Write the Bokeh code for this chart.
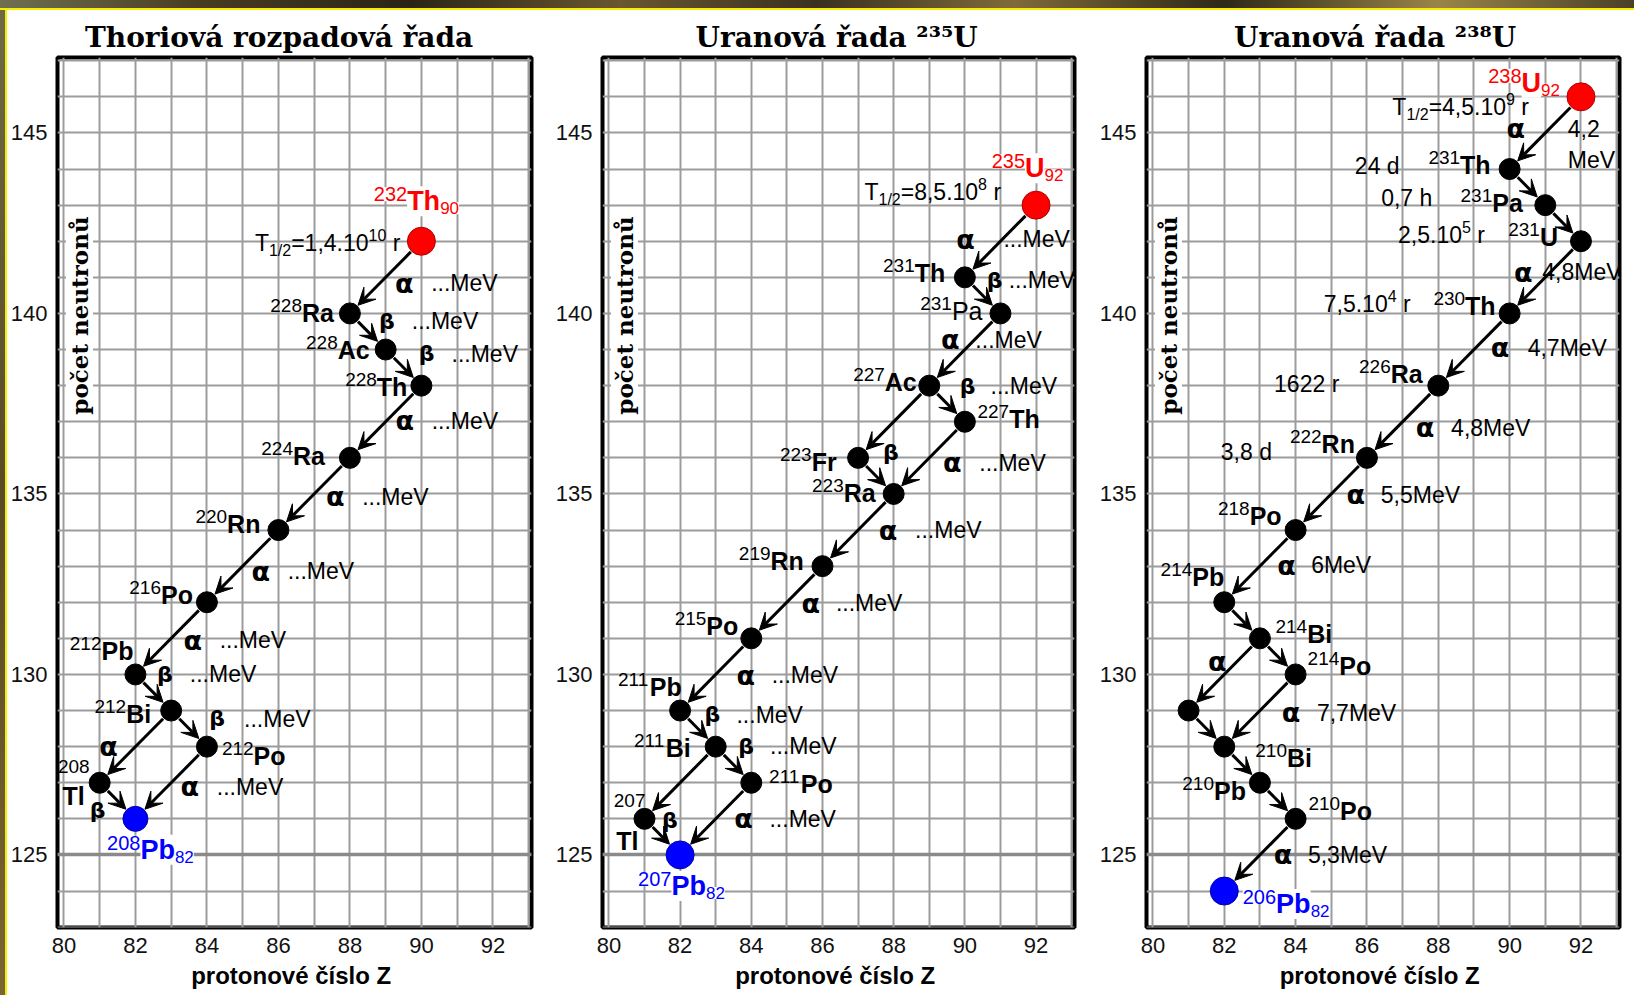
import math
import re

from bokeh.core.properties import value
from bokeh.embed import file_html
from bokeh.layouts import row
from bokeh.models import (Arrow, ColumnDataSource, FixedTicker, GlobalInlineStyleSheet,
                          Grid, Label, LabelSet, Range1d, VeeHead)
from bokeh.plotting import figure
from bokeh.resources import INLINE

# ----------------------------------------------------------------- data ---
titles = ["Thoriová rozpadová řada", "Uranová řada ²³⁵U", "Uranová řada ²³⁸U"]
x_ticks = [80, 82, 84, 86, 88, 90, 92]
y_ticks = [125, 130, 135, 140, 145]
x_title = "protonové číslo  Z"
y_title = "počet neutronů"

# thorium series
s1_Z = [90, 88, 89, 90, 88, 86, 84, 82, 83, 84, 81, 82]
s1_N = [142, 140, 139, 138, 136, 134, 132, 130, 129, 128, 127, 126]
s1_A = ["232", "228", "228", "228", "224", "220", "216", "212", "212", "212", "208", "208"]
s1_sym = ["Th", "Ra", "Ac", "Th", "Ra", "Rn", "Po", "Pb", "Bi", "Po", "Tl", "Pb"]
s1_half = ["T_{1/2}=1,4.10^{10} r"] + [None] * 11
s1_from = [0, 1, 2, 3, 4, 5, 6, 7, 8, 8, 9, 10]
s1_to = [1, 2, 3, 4, 5, 6, 7, 8, 9, 10, 11, 11]
s1_mode = ["α", "β", "β", "α", "α", "α", "α", "β", "β", "α", "α", "β"]
s1_energy = ["...MeV"] * 9 + [None, "...MeV", None]

# uranium 235 series
s2_Z = [92, 90, 91, 89, 90, 87, 88, 86, 84, 82, 83, 84, 81, 82]
s2_N = [143, 141, 140, 138, 137, 136, 135, 133, 131, 129, 128, 127, 126, 125]
s2_A = ["235", "231", "231", "227", "227", "223", "223", "219", "215", "211", "211", "211", "207", "207"]
s2_sym = ["U", "Th", "Pa", "Ac", "Th", "Fr", "Ra", "Rn", "Po", "Pb", "Bi", "Po", "Tl", "Pb"]
s2_half = ["T_{1/2}=8,5.10^{8} r"] + [None] * 13
s2_from = [0, 1, 2, 3, 3, 5, 4, 6, 7, 8, 9, 10, 10, 12, 11]
s2_to = [1, 2, 3, 4, 5, 6, 6, 7, 8, 9, 10, 11, 12, 13, 13]
s2_mode = ["α", "β", "α", "β", "α", "β", "α", "α", "α", "α", "β", "β", "α", "β", "α"]
s2_energy = ["...MeV", "...MeV", "...MeV", "...MeV", None, None, "...MeV", "...MeV",
             "...MeV", "...MeV", "...MeV", "...MeV", None, None, "...MeV"]

# uranium 238 series
s3_Z = [92, 90, 91, 92, 90, 88, 86, 84, 82, 83, 84, 81, 82, 83, 84, 82]
s3_N = [146, 144, 143, 142, 140, 138, 136, 134, 132, 131, 130, 129, 128, 127, 126, 124]
s3_A = ["238", "231", "231", "231", "230", "226", "222", "218", "214", "214", "214", None,
        "210", "210", "210", "206"]
s3_sym = ["U", "Th", "Pa", "U", "Th", "Ra", "Rn", "Po", "Pb", "Bi", "Po", None,
          "Bi", "Pb", "Po", "Pb"]
s3_half = ["T_{1/2}=4,5.10^{9} r", "24 d", "0,7 h", "2,5.10^{5} r", "7,5.10^{4} r",
           "1622 r", "3,8 d"] + [None] * 9
s3_from = [0, 1, 2, 3, 4, 5, 6, 7, 8, 9, 9, 10, 11, 12, 13, 14]
s3_to = [1, 2, 3, 4, 5, 6, 7, 8, 9, 10, 11, 12, 12, 13, 14, 15]
s3_mode = ["α", "β", "β", "α", "α", "α", "α", "α", "β", "β", "α", "α", "β", "β", "β", "α"]
s3_energy = ["4,2 MeV", None, None, "4,8MeV", "4,7MeV", "4,8MeV", "5,5MeV", "6MeV",
             None, None, None, "7,7MeV", None, None, None, "5,3MeV"]

SERIES = [
    (s1_Z, s1_N, s1_A, s1_sym, s1_half, s1_from, s1_to, s1_mode, s1_energy),
    (s2_Z, s2_N, s2_A, s2_sym, s2_half, s2_from, s2_to, s2_mode, s2_energy),
    (s3_Z, s3_N, s3_A, s3_sym, s3_half, s3_from, s3_to, s3_mode, s3_energy),
]

# --------------------------------------------------------------- layout ---
XR = (79.82, 93.08)
YR = (122.99, 147.09)
FRAME_H = 870
TOP, BOTTOM = 57, 68

LAYOUT = [
    dict(fw=474, left=57, right=21, toff=27.5,
         nuc=[("c", -5, -31), ("r", -16, 9), ("r", -16, 9), ("r", -14, 10), ("r", -25, 7),
              ("r", -18, 3), ("r", -14, 2), ("r", -2, -14), ("r", -20, 12), ("l", 15, 18),
              ("split", -10, -10, -15, 22), ("c", 15, 40)],
         half={0: (-21, 10)},
         dec=[(18.5, 6, 27), (19, -10, 25), (23, -14, 25), (19, -1, 27), (21, 3, 27),
              (18, 5, 27), (21.5, 2, 27), (11.5, -18, 25), (28, -10, 27), (-27, 0, None),
              (18.6, 4, 27), (-20, 10, None)],
         big={0: 28, 11: 25}, regular_sym=set()),
    dict(fw=472, left=49, right=22, toff=93,
         nuc=[("c", -8.5, -28), ("r", -19.6, 5), ("r", -18, 7), ("r", -12.5, 5), ("l", 12.6, 6.7),
              ("r", -21.4, 13), ("r", -18, 8), ("r", -18.6, 4), ("r", -13, -3), ("r", 1.6, -15),
              ("r", -25, 10.7), ("l", 17.8, 10), ("split", 1, -11.6, -6, 31), ("c", 1.4, 40)],
         half={0: (-35, -5)},
         dec=[(-35, -2, 38), (12, -15, 14), (-14.5, -10, 25), (20.5, -17.5, 23), None,
              (15, -23, None), (23, 5, 27), (30, 0, 27), (24, 1, 25), (30, 1, 26),
              (14.6, -14, 24), (12.6, -18.3, 24), None, (7.6, -16.7, None), (27.8, 0, 26)],
         big={0: 28, 13: 28}, regular_sym={2}),
    dict(fw=473, left=49, right=17, toff=87.5,
         nuc=[("r", -21, -5), ("r", -19, 5), ("r", -22.5, 6.6), ("r", -23, 5), ("r", -14, 2),
              ("r", -15.6, -3), ("r", -12, -5), ("r", -14, -5), ("r", 0, -16.7), ("l", 15.5, 5),
              ("l", 12, 1), None, ("l", 31, 20.7), ("r", -14, 17.7), ("l", 12.8, 1.6),
              ("l", 18.5, 22)],
         half={0: (-52, 18.3), 1: (-110, 5), 2: (-113, 1.3), 3: (-96, 1.7),
               4: (-99, -1.6), 5: (-99, 6.7), 6: (-95, 1.7)},
         dec=[(-29.5, -4, 52), None, None, (-22, -5, 19), (26, -2, 27.7), (22.5, 6, 26),
              (24.5, 1, 25), (26.5, -1, 24.7), None, None, (-7, -12.5, None), (31, 2.4, 26),
              None, None, None, (23, 0, 25)],
         big={0: 28, 15: 28}, regular_sym=set()),
]

SANS = "Liberation Sans"
STYLES = {
    "mass": (SANS, 19, "normal", "left", "alphabetic", None),
    "sym": (SANS, 25, "bold", "left", "alphabetic", None),
    "symr": (SANS, 25, "normal", "left", "alphabetic", None),
    "cmass": (SANS, 20, "normal", "left", "alphabetic", "white"),
    "csym": (SANS, 27, "bold", "left", "alphabetic", "white"),
    "csub": (SANS, 17, "normal", "left", "alphabetic", "white"),
    "α": ("DejaVu Sans", 27, "bold", "center", "middle", None),
    "β": ("DejaVu Sans", 22, "bold", "center", "middle", None),
    "en": (SANS, 23, "normal", "left", "middle", None),
    "hl": (SANS, 23, "normal", "left", "alphabetic", None),
    "hls": (SANS, 16, "normal", "left", "alphabetic", None),
}

W_REG = {c: 556 for c in "0123456789"}
W_REG.update({" ": 278, ",": 278, ".": 278, "/": 278, "=": 584, "T": 611, "r": 333,
              "d": 556, "h": 556, "M": 833, "e": 556, "V": 667, "P": 667, "a": 556})
W_BOLD = {c: 556 for c in "0123456789"}
W_BOLD.update({"A": 722, "B": 722, "F": 611, "P": 667, "R": 722, "T": 611, "U": 722,
               "a": 556, "b": 611, "c": 556, "h": 611, "i": 278, "l": 278, "n": 611,
               "o": 611, "r": 389})


def tw(s, style):
    size, bold = STYLES[style][1], STYLES[style][2] == "bold"
    table = W_BOLD if bold else W_REG
    return sum(table.get(c, 580) for c in s) * size / 1000.0


def build(pi):
    Z, N, A, sym, half, dfrom, dto, mode, energy = SERIES[pi]
    L = LAYOUT[pi]
    fw = L["fw"]
    SX = fw / (XR[1] - XR[0])
    SY = FRAME_H / (YR[1] - YR[0])

    p = figure(frame_width=fw, frame_height=FRAME_H,
               x_range=Range1d(*XR), y_range=Range1d(*YR),
               output_backend="svg", toolbar_location=None,
               min_border_left=L["left"], min_border_right=L["right"],
               min_border_top=TOP, min_border_bottom=BOTTOM,
               title=titles[pi], background_fill_color="white",
               border_fill_color="white")
    p.title.text_font = "DejaVu Serif"
    p.title.text_font_style = "bold"
    p.title.text_font_size = "28px"
    p.title.text_color = "black"
    p.title.align = "left"
    p.title.offset = L["toff"]
    p.title.standoff = 8

    p.outline_line_color = "black"
    p.outline_line_width = 4
    p.outline_line_alpha = 1

    p.xgrid.ticker = FixedTicker(ticks=list(range(80, 94)))
    p.ygrid.ticker = FixedTicker(ticks=list(range(123, 148)))
    for g in (p.xgrid, p.ygrid):
        g.grid_line_color = "#9c9c9c"
        g.grid_line_width = 2
    p.add_layout(Grid(dimension=1, ticker=FixedTicker(ticks=[125]),
                      grid_line_color="#8a8a8a", grid_line_width=3.5))

    p.xaxis.ticker = FixedTicker(ticks=x_ticks)
    p.yaxis.ticker = FixedTicker(ticks=y_ticks)
    for ax in (p.xaxis, p.yaxis):
        ax.axis_line_color = None
        ax.major_tick_line_color = None
        ax.minor_tick_line_color = None
        ax.major_tick_out = 0
        ax.major_tick_in = 0
        ax.minor_tick_out = 0
        ax.minor_tick_in = 0
        ax.major_label_text_font = SANS
        ax.major_label_text_color = "#111111"
    p.xaxis.major_label_text_font_size = "22px"
    p.xaxis.major_label_standoff = 10
    p.yaxis.major_label_text_font_size = "22px"
    p.yaxis.major_label_standoff = 10
    p.xaxis.axis_label = x_title
    p.xaxis.axis_label_text_font = SANS
    p.xaxis.axis_label_text_font_style = "bold"
    p.xaxis.axis_label_text_font_size = "24px"
    p.xaxis.axis_label_text_color = "black"
    p.xaxis.axis_label_standoff = 6

    # markers
    sizes, fills, lines = [], [], []
    for i in range(len(Z)):
        if i in L["big"]:
            col = "#ff0000" if i == 0 else "#0000ff"
            sizes.append(L["big"][i]); fills.append(col)
            lines.append("#b00000" if i == 0 else "#0000b0")
        else:
            sizes.append(21); fills.append("black"); lines.append("black")

    # arrows, shortened to the marker rims
    asrc = dict(x0=[], y0=[], x1=[], y1=[])
    for a, b in zip(dfrom, dto):
        dxp = (Z[b] - Z[a]) * SX
        dyp = (N[b] - N[a]) * SY
        lp = math.hypot(dxp, dyp)
        r0 = sizes[a] / 2.0 + 1
        r1 = sizes[b] / 2.0 + 1
        asrc["x0"].append(Z[a] + (Z[b] - Z[a]) * r0 / lp)
        asrc["y0"].append(N[a] + (N[b] - N[a]) * r0 / lp)
        asrc["x1"].append(Z[b] - (Z[b] - Z[a]) * r1 / lp)
        asrc["y1"].append(N[b] - (N[b] - N[a]) * r1 / lp)
    p.add_layout(Arrow(end=VeeHead(size=17, fill_color="black", line_color="black", line_width=1),
                       source=ColumnDataSource(asrc), x_start="x0", y_start="y0",
                       x_end="x1", y_end="y1", line_color="black", line_width=3))

    p.scatter(x="Z", y="N", size="s", fill_color="fc", line_color="lc", line_width=1,
              source=ColumnDataSource(dict(Z=Z, N=N, s=sizes, fc=fills, lc=lines)))

    groups = {}

    def put(style, x, y, dx, dy, text, color="black"):
        g = groups.setdefault(style, dict(x=[], y=[], xo=[], yo=[], text=[], tcol=[]))
        g["x"].append(x); g["y"].append(y)
        g["xo"].append(dx); g["yo"].append(-dy)
        g["text"].append(text); g["tcol"].append(color)

    # nuclide labels
    for i in range(len(Z)):
        lay = L["nuc"][i]
        if lay is None or sym[i] is None:
            continue
        x, y = Z[i], N[i]
        if lay[0] == "split":
            _, dx1, dy1, dx2, dy2 = lay
            put("mass", x, y, dx1 - tw(A[i], "mass"), dy1, A[i])
            put("sym", x, y, dx2 - tw(sym[i], "sym"), dy2, sym[i])
            continue
        align, dx, dy = lay
        if i in L["big"]:
            col = "#ff0000" if i == 0 else "#0000ff"
            parts = [(A[i], "cmass", -9), (sym[i], "csym", 0), (str(Z[i]), "csub", 4)]
        else:
            col = "black"
            st = "symr" if i in L["regular_sym"] else "sym"
            parts = [(A[i], "mass", -10), (sym[i], st, 0)]
        total = sum(tw(t, s) for t, s, _ in parts)
        left = dx - total if align == "r" else (dx - total / 2.0 if align == "c" else dx)
        for t, s, sh in parts:
            put(s, x, y, left, dy + sh, t, col)
            left += tw(t, s)

    # half-lives (sub-/superscripts as separate, smaller texts)
    for i, (dx, dy) in L["half"].items():
        txt = half[i]
        segs = []
        for m in re.finditer(r"_\{([^}]*)\}|\^\{([^}]*)\}|([^_^]+)", txt):
            if m.group(1) is not None:
                segs.append((m.group(1), "hls", 5))
            elif m.group(2) is not None:
                segs.append((m.group(2), "hls", -10))
            else:
                segs.append((m.group(3), "hl", 0))
        total = sum(tw(t, s) for t, s, _ in segs)
        left = dx - total
        for t, s, sh in segs:
            lead = len(t) - len(t.lstrip(" "))
            if lead:
                left += tw(" " * lead, s)
                t = t.lstrip(" ")
            put(s, Z[i], N[i], left, dy + sh, t)
            left += tw(t, s)

    # decay labels
    for k, (a, b) in enumerate(zip(dfrom, dto)):
        lay = L["dec"][k]
        if lay is None:
            continue
        gdx, gdy, edx = lay
        mx, my = (Z[a] + Z[b]) / 2.0, (N[a] + N[b]) / 2.0
        put(mode[k], mx, my, gdx, gdy, mode[k])
        if energy[k] and edx is not None:
            for j, line in enumerate(energy[k].split(" ")):
                put("en", mx, my, gdx + edx, gdy + 31 * j, line)

    for style, g in groups.items():
        font, size, fstyle, align, base, bg = STYLES[style]
        p.add_layout(LabelSet(source=ColumnDataSource(g), x="x", y="y", text="text",
                              x_offset="xo", y_offset="yo", text_color="tcol",
                              text_font=value(font), text_font_size=value(f"{size}px"),
                              text_font_style=fstyle, text_align=align, text_baseline=base,
                              background_fill_color=bg))

    # y-axis title, drawn inside the frame as in the original
    p.add_layout(Label(x=XR[0] + 22 / SX, y=YR[1] - 258 / SY, text=y_title,
                       angle=90, angle_units="deg", text_align="center",
                       text_baseline="middle", text_font="DejaVu Serif",
                       text_font_style="bold", text_font_size="23px",
                       text_color="black", background_fill_color="white"))
    return p


# slide background strips around the white sheet (top band and left edge)
page_css = GlobalInlineStyleSheet(css="""
body::before {
  content: ""; position: fixed; left: 0; top: 0; right: 0; height: 8px; z-index: 50;
  background: linear-gradient(90deg, #707050 0%, #4a3c22 12%, #2b2416 25%, #6a5630 38%,
              #3a3020 50%, #806a3a 62%, #2e2818 75%, #9a8448 88%, #4a4028 100%);
  border-bottom: 2px solid #f4f000;
}
body::after {
  content: ""; position: fixed; left: 0; top: 0; bottom: 0; width: 5px; z-index: 49;
  background: linear-gradient(180deg, #6e6a48 0%, #5a4a26 50%, #7a6432 100%);
  border-right: 2px solid #f4f000;
}
""")

figs = [build(i) for i in range(3)]
layout = row(*figs, spacing=0, stylesheets=[page_css])
open("out.html", "w").write(file_html(layout, INLINE))
